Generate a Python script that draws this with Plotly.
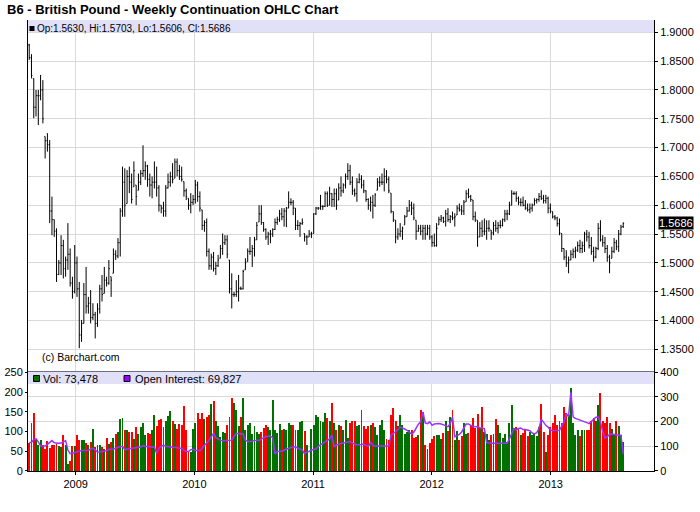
import pandas as pd
import plotly.graph_objects as go

# weekly B6 continuation, Aug 2008 - Aug 2013
opens = [
    1.878, 1.856, 1.820, 1.770, 1.790, 1.790, 1.800, 1.719, 1.712, 1.705,
    1.590, 1.575, 1.555, 1.480, 1.500, 1.530, 1.490, 1.505, 1.515, 1.465,
    1.450, 1.500, 1.455, 1.375, 1.395, 1.445, 1.425, 1.430, 1.405, 1.410,
    1.395, 1.420, 1.455, 1.447, 1.470, 1.465, 1.476, 1.482, 1.515, 1.512,
    1.535, 1.590, 1.640, 1.603, 1.650, 1.640, 1.632, 1.635, 1.626, 1.640,
    1.655, 1.660, 1.668, 1.645, 1.635, 1.640, 1.640, 1.630, 1.600, 1.595,
    1.590, 1.630, 1.640, 1.650, 1.647, 1.675, 1.660, 1.650, 1.641, 1.625,
    1.612, 1.600, 1.605, 1.610, 1.635, 1.615, 1.592, 1.565, 1.570, 1.520,
    1.495, 1.510, 1.490, 1.495, 1.508, 1.525, 1.535, 1.540, 1.505, 1.455,
    1.445, 1.445, 1.450, 1.456, 1.455, 1.488, 1.502, 1.520, 1.520, 1.525,
    1.540, 1.571, 1.585, 1.570, 1.558, 1.545, 1.550, 1.550, 1.558, 1.570,
    1.575, 1.585, 1.580, 1.590, 1.595, 1.605, 1.605, 1.595, 1.565, 1.565,
    1.568, 1.551, 1.545, 1.545, 1.550, 1.551, 1.585, 1.595, 1.595, 1.598,
    1.598, 1.620, 1.600, 1.620, 1.610, 1.620, 1.609, 1.630, 1.625, 1.635,
    1.650, 1.660, 1.640, 1.625, 1.620, 1.640, 1.645, 1.635, 1.625, 1.610,
    1.600, 1.605, 1.600, 1.626, 1.640, 1.640, 1.640, 1.650, 1.645, 1.621,
    1.589, 1.574, 1.545, 1.550, 1.555, 1.566, 1.580, 1.590, 1.600, 1.595,
    1.574, 1.555, 1.560, 1.555, 1.560, 1.550, 1.560, 1.545, 1.535, 1.530,
    1.566, 1.575, 1.578, 1.572, 1.585, 1.575, 1.580, 1.578, 1.583, 1.595,
    1.592, 1.590, 1.606, 1.620, 1.615, 1.609, 1.580, 1.574, 1.545, 1.560,
    1.555, 1.555, 1.560, 1.557, 1.552, 1.565, 1.560, 1.565, 1.565, 1.575,
    1.585, 1.585, 1.600, 1.620, 1.620, 1.612, 1.605, 1.605, 1.600, 1.595,
    1.592, 1.595, 1.600, 1.608, 1.610, 1.615, 1.612, 1.608, 1.612, 1.595,
    1.589, 1.580, 1.578, 1.568, 1.551, 1.525, 1.510, 1.500, 1.505, 1.515,
    1.520, 1.522, 1.530, 1.525, 1.530, 1.550, 1.545, 1.530, 1.520, 1.510,
    1.525, 1.560, 1.540, 1.535, 1.525, 1.510, 1.508, 1.520, 1.535, 1.528,
    1.550, 1.5630,
]
highs = [
    1.880, 1.862, 1.820, 1.800, 1.800, 1.826, 1.817, 1.719, 1.725, 1.713,
    1.615, 1.575, 1.560, 1.505, 1.548, 1.540, 1.511, 1.569, 1.525, 1.476,
    1.531, 1.511, 1.467, 1.401, 1.465, 1.493, 1.441, 1.453, 1.430, 1.415,
    1.430, 1.462, 1.479, 1.493, 1.476, 1.505, 1.476, 1.525, 1.522, 1.543,
    1.595, 1.667, 1.664, 1.661, 1.667, 1.655, 1.676, 1.635, 1.655, 1.661,
    1.704, 1.676, 1.670, 1.655, 1.650, 1.676, 1.667, 1.635, 1.600, 1.606,
    1.635, 1.655, 1.658, 1.673, 1.681, 1.681, 1.670, 1.667, 1.641, 1.629,
    1.612, 1.621, 1.618, 1.644, 1.641, 1.624, 1.592, 1.574, 1.577, 1.525,
    1.516, 1.519, 1.502, 1.514, 1.531, 1.551, 1.548, 1.548, 1.505, 1.482,
    1.450, 1.470, 1.479, 1.459, 1.488, 1.508, 1.525, 1.545, 1.531, 1.545,
    1.571, 1.600, 1.600, 1.571, 1.560, 1.554, 1.557, 1.560, 1.577, 1.580,
    1.592, 1.595, 1.595, 1.597, 1.624, 1.612, 1.609, 1.595, 1.574, 1.571,
    1.577, 1.551, 1.548, 1.557, 1.554, 1.586, 1.597, 1.597, 1.618, 1.600,
    1.624, 1.624, 1.632, 1.621, 1.629, 1.629, 1.638, 1.650, 1.638, 1.655,
    1.673, 1.670, 1.650, 1.629, 1.647, 1.655, 1.652, 1.644, 1.626, 1.612,
    1.615, 1.618, 1.621, 1.647, 1.650, 1.655, 1.664, 1.661, 1.650, 1.621,
    1.589, 1.574, 1.560, 1.569, 1.563, 1.583, 1.597, 1.609, 1.606, 1.603,
    1.574, 1.566, 1.566, 1.566, 1.566, 1.566, 1.566, 1.548, 1.551, 1.569,
    1.580, 1.583, 1.580, 1.592, 1.595, 1.583, 1.589, 1.586, 1.600, 1.603,
    1.600, 1.609, 1.626, 1.629, 1.618, 1.609, 1.589, 1.574, 1.571, 1.574,
    1.577, 1.574, 1.574, 1.557, 1.571, 1.574, 1.571, 1.574, 1.577, 1.592,
    1.592, 1.606, 1.626, 1.624, 1.624, 1.615, 1.612, 1.615, 1.609, 1.603,
    1.603, 1.603, 1.612, 1.612, 1.621, 1.626, 1.618, 1.618, 1.615, 1.603,
    1.589, 1.583, 1.580, 1.577, 1.551, 1.525, 1.522, 1.511, 1.522, 1.525,
    1.528, 1.537, 1.540, 1.537, 1.554, 1.557, 1.554, 1.545, 1.528, 1.528,
    1.569, 1.574, 1.548, 1.545, 1.531, 1.514, 1.528, 1.543, 1.540, 1.557,
    1.566, 1.5703,
]
lows = [
    1.852, 1.820, 1.751, 1.754, 1.739, 1.782, 1.742, 1.681, 1.693, 1.569,
    1.548, 1.545, 1.467, 1.479, 1.479, 1.473, 1.476, 1.488, 1.459, 1.438,
    1.447, 1.441, 1.352, 1.363, 1.395, 1.412, 1.412, 1.395, 1.401, 1.369,
    1.389, 1.412, 1.433, 1.447, 1.459, 1.462, 1.441, 1.482, 1.505, 1.508,
    1.511, 1.580, 1.580, 1.603, 1.621, 1.603, 1.632, 1.600, 1.626, 1.635,
    1.649, 1.644, 1.632, 1.615, 1.612, 1.629, 1.615, 1.589, 1.586, 1.580,
    1.580, 1.629, 1.632, 1.638, 1.647, 1.650, 1.644, 1.641, 1.615, 1.609,
    1.592, 1.586, 1.600, 1.603, 1.606, 1.589, 1.557, 1.554, 1.511, 1.488,
    1.488, 1.485, 1.479, 1.493, 1.508, 1.514, 1.531, 1.508, 1.447, 1.421,
    1.441, 1.441, 1.433, 1.453, 1.454, 1.488, 1.502, 1.514, 1.493, 1.511,
    1.540, 1.571, 1.566, 1.554, 1.540, 1.531, 1.534, 1.545, 1.557, 1.566,
    1.571, 1.574, 1.563, 1.562, 1.595, 1.600, 1.583, 1.557, 1.557, 1.545,
    1.566, 1.537, 1.531, 1.545, 1.543, 1.551, 1.583, 1.592, 1.592, 1.592,
    1.597, 1.597, 1.600, 1.597, 1.597, 1.592, 1.609, 1.615, 1.621, 1.629,
    1.644, 1.635, 1.618, 1.615, 1.606, 1.638, 1.629, 1.621, 1.606, 1.592,
    1.589, 1.577, 1.597, 1.626, 1.632, 1.635, 1.624, 1.638, 1.621, 1.586,
    1.571, 1.534, 1.540, 1.545, 1.540, 1.566, 1.580, 1.589, 1.583, 1.574,
    1.540, 1.554, 1.548, 1.540, 1.540, 1.548, 1.540, 1.528, 1.528, 1.528,
    1.566, 1.571, 1.569, 1.563, 1.571, 1.569, 1.574, 1.563, 1.583, 1.589,
    1.583, 1.583, 1.606, 1.612, 1.606, 1.574, 1.571, 1.528, 1.545, 1.545,
    1.548, 1.540, 1.554, 1.540, 1.548, 1.554, 1.551, 1.560, 1.563, 1.571,
    1.574, 1.583, 1.600, 1.618, 1.606, 1.600, 1.598, 1.598, 1.592, 1.589,
    1.586, 1.589, 1.600, 1.603, 1.606, 1.609, 1.603, 1.603, 1.586, 1.586,
    1.577, 1.574, 1.563, 1.548, 1.519, 1.505, 1.493, 1.482, 1.505, 1.508,
    1.508, 1.519, 1.517, 1.517, 1.519, 1.537, 1.525, 1.514, 1.502, 1.508,
    1.522, 1.537, 1.528, 1.517, 1.502, 1.482, 1.508, 1.517, 1.522, 1.519,
    1.548, 1.5606,
]
closes = [
    1.856, 1.825, 1.770, 1.790, 1.790, 1.800, 1.750, 1.712, 1.705, 1.590,
    1.575, 1.555, 1.480, 1.500, 1.530, 1.490, 1.505, 1.515, 1.465, 1.450,
    1.500, 1.455, 1.375, 1.395, 1.445, 1.425, 1.430, 1.405, 1.410, 1.395,
    1.420, 1.455, 1.445, 1.470, 1.465, 1.490, 1.470, 1.515, 1.512, 1.535,
    1.590, 1.640, 1.600, 1.650, 1.640, 1.610, 1.660, 1.615, 1.640, 1.655,
    1.660, 1.668, 1.645, 1.635, 1.640, 1.640, 1.630, 1.600, 1.595, 1.590,
    1.630, 1.640, 1.650, 1.645, 1.675, 1.660, 1.650, 1.645, 1.625, 1.615,
    1.600, 1.605, 1.610, 1.635, 1.615, 1.595, 1.565, 1.570, 1.520, 1.495,
    1.510, 1.490, 1.495, 1.505, 1.525, 1.535, 1.540, 1.515, 1.455, 1.445,
    1.445, 1.450, 1.456, 1.455, 1.485, 1.500, 1.520, 1.520, 1.525, 1.540,
    1.565, 1.585, 1.570, 1.558, 1.545, 1.550, 1.550, 1.558, 1.570, 1.575,
    1.585, 1.580, 1.590, 1.595, 1.605, 1.605, 1.595, 1.565, 1.565, 1.568,
    1.570, 1.545, 1.545, 1.550, 1.550, 1.585, 1.595, 1.595, 1.598, 1.598,
    1.620, 1.600, 1.620, 1.610, 1.620, 1.600, 1.630, 1.625, 1.635, 1.650,
    1.660, 1.640, 1.625, 1.620, 1.640, 1.645, 1.635, 1.625, 1.610, 1.600,
    1.605, 1.600, 1.618, 1.640, 1.640, 1.640, 1.650, 1.645, 1.625, 1.590,
    1.575, 1.545, 1.550, 1.555, 1.560, 1.580, 1.590, 1.600, 1.595, 1.578,
    1.555, 1.560, 1.555, 1.560, 1.550, 1.560, 1.545, 1.535, 1.530, 1.560,
    1.575, 1.578, 1.572, 1.585, 1.575, 1.580, 1.578, 1.580, 1.595, 1.592,
    1.590, 1.605, 1.620, 1.615, 1.610, 1.580, 1.575, 1.545, 1.560, 1.555,
    1.555, 1.560, 1.560, 1.552, 1.565, 1.560, 1.565, 1.565, 1.575, 1.585,
    1.585, 1.600, 1.620, 1.620, 1.612, 1.605, 1.605, 1.600, 1.595, 1.592,
    1.595, 1.600, 1.608, 1.610, 1.615, 1.612, 1.608, 1.612, 1.595, 1.590,
    1.580, 1.578, 1.568, 1.552, 1.525, 1.510, 1.500, 1.505, 1.515, 1.520,
    1.522, 1.530, 1.525, 1.530, 1.550, 1.545, 1.530, 1.520, 1.510, 1.525,
    1.560, 1.540, 1.535, 1.525, 1.510, 1.500, 1.520, 1.535, 1.528, 1.550,
    1.562, 1.5686,
]

# thousands of contracts
volume = [
    72, 123, 149, 79, 66, 79, 66, 58, 77, 60,
    66, 66, 69, 64, 62, 93, 68, 18, 26, 64,
    64, 93, 81, 81, 81, 71, 66, 75, 108, 62,
    68, 68, 62, 58, 86, 70, 75, 86, 96, 100,
    134, 136, 104, 104, 100, 100, 83, 113, 94, 113,
    123, 93, 98, 96, 106, 144, 114, 131, 134, 113,
    127, 141, 152, 129, 121, 107, 121, 118, 165, 104,
    52, 50, 107, 123, 149, 133, 148, 134, 139, 143,
    171, 179, 127, 115, 87, 100, 98, 118, 139, 186,
    174, 157, 114, 139, 186, 104, 117, 123, 94, 114,
    100, 96, 100, 111, 117, 113, 104, 182, 106, 98,
    121, 106, 108, 106, 123, 119, 117, 104, 106, 126,
    129, 102, 68, 0, 108, 118, 144, 139, 129, 125,
    149, 136, 127, 174, 123, 106, 118, 115, 104, 131,
    85, 123, 128, 128, 115, 117, 155, 114, 108, 114,
    119, 123, 113, 92, 118, 131, 104, 83, 79, 142,
    161, 127, 115, 142, 117, 96, 100, 106, 104, 86,
    87, 92, 156, 150, 66, 56, 73, 83, 89, 93,
    93, 83, 98, 127, 102, 138, 155, 81, 102, 81,
    89, 123, 96, 98, 118, 136, 111, 146, 111, 163,
    100, 96, 79, 92, 94, 134, 118, 97, 85, 96,
    75, 123, 169, 110, 113, 108, 93, 97, 106, 89,
    100, 92, 98, 90, 113, 171, 100, 50, 93, 113,
    123, 144, 119, 128, 123, 163, 148, 144, 211, 123,
    93, 104, 89, 104, 104, 104, 104, 128, 136, 129,
    169, 199, 128, 123, 138, 123, 108, 96, 127, 115,
    92, 73.478,
]
open_interest = [
    115, 115, 128, 130, 118, 101, 101, 101, 108, 115,
    123, 114, 112, 112, 113, 118, 123, 85, 70, 72,
    75, 79, 83, 83, 83, 83, 84, 88, 92, 86,
    76, 77, 79, 79, 82, 88, 88, 89, 92, 96,
    99, 99, 87, 89, 90, 91, 92, 92, 93, 97,
    103, 99, 99, 99, 99, 96, 72, 92, 100, 105,
    100, 99, 99, 99, 97, 94, 92, 92, 85, 79,
    79, 86, 88, 83, 83, 83, 92, 105, 112, 125,
    140, 152, 135, 128, 124, 123, 123, 123, 122, 125,
    140, 152, 152, 152, 150, 125, 119, 119, 121, 125,
    125, 124, 130, 136, 140, 141, 141, 135, 69, 79,
    79, 80, 85, 88, 93, 95, 98, 97, 92, 88,
    85, 70, 77, 79, 85, 87, 89, 100, 106, 112,
    120, 125, 130, 145, 99, 105, 109, 112, 113, 115,
    116, 119, 114, 108, 106, 105, 107, 109, 103, 99,
    115, 105, 101, 101, 101, 101, 101, 101, 101, 145,
    152, 160, 167, 178, 175, 170, 165, 157, 150, 157,
    175, 190, 199, 239, 195, 192, 199, 185, 190, 192,
    192, 190, 188, 184, 179, 193, 219, 139, 143, 148,
    158, 172, 190, 190, 185, 180, 179, 179, 175, 172,
    172, 115, 112, 112, 112, 112, 112, 112, 112, 112,
    112, 130, 150, 172, 166, 172, 174, 168, 168, 167,
    163, 154, 150, 155, 172, 210, 195, 185, 178, 166,
    164, 163, 164, 165, 180, 200, 233, 220, 319, 219,
    213, 210, 207, 205, 201, 196, 192, 200, 208, 218,
    219, 200, 160, 133, 139, 148, 150, 148, 145, 145,
    145, 69.827,
]

price_ticks = [1.35, 1.40, 1.45, 1.50, 1.55, 1.60, 1.65, 1.70, 1.75, 1.80, 1.85, 1.90]
vol_ticks = [0, 50, 100, 150, 200, 250]
oi_ticks = [0, 100, 200, 300, 400]

weeks = pd.date_range("2008-08-11", periods=len(closes), freq="7D")

GRID = "#d9d9d9"
BAND = "#e0e0f8"
GREEN = "#007000"
RED = "#ff0000"
PURPLE = "#9933ff"
FONT = "Liberation Sans, Arial, sans-serif"
x_range = ["2008-08-07 07:00", "2013-11-14 17:00"]

bar_colors = [GREEN if c >= o else RED for o, c in zip(opens, closes)]

fig = go.Figure()
fig.add_trace(go.Ohlc(
    x=weeks, open=opens, high=highs, low=lows, close=closes,
    increasing_line_color="black", decreasing_line_color="black",
    line_width=1, tickwidth=0.4, xaxis="x", yaxis="y",
))
fig.add_trace(go.Bar(
    x=weeks, y=volume, marker_color=bar_colors, marker_line_width=0,
    width=2.9 * 86400000, xaxis="x2", yaxis="y2",
))
fig.add_trace(go.Scatter(
    x=weeks, y=open_interest, mode="lines",
    line=dict(color=PURPLE, width=1.5), xaxis="x2", yaxis="y3",
))

def px(x):
    # screen column -> paper x (plot area spans 28..654)
    return (x - 28) / 626

def py(y):
    # screen row -> paper y (plot area spans 20..471)
    return (471 - y) / 451

shapes = [
    dict(type="rect", xref="paper", yref="paper", x0=0, x1=1, y0=py(32), y1=1,
         fillcolor=BAND, line_width=0, layer="above"),
    dict(type="rect", xref="paper", yref="paper", x0=0, x1=1, y0=py(384), y1=py(371.5),
         fillcolor=BAND, line_width=0, layer="above"),
    dict(type="rect", xref="paper", yref="paper", x0=px(29.5), x1=px(34.5), y0=py(31), y1=py(26),
         fillcolor="black", line_width=0, layer="above"),
    dict(type="rect", xref="paper", yref="paper", x0=px(33.5), x1=px(39.5), y0=py(381.5), y1=py(375.5),
         fillcolor=GREEN, line=dict(color="black", width=1), layer="above"),
    dict(type="rect", xref="paper", yref="paper", x0=px(124), x1=px(130), y0=py(381.5), y1=py(375.5),
         fillcolor="#9900ff", line=dict(color="black", width=1), layer="above"),
]

def note(text, x, y, size=11):
    return dict(text=text, xref="paper", yref="paper", x=px(x), y=py(y),
                xanchor="left", yanchor="middle", showarrow=False,
                font=dict(size=size, color="black", family=FONT))

annotations = [
    note("<b>B6 - British Pound - Weekly Continuation OHLC Chart</b>", 5, 9.5, 13),
    note("Op:1.5630, Hi:1.5703, Lo:1.5606, Cl:1.5686", 34.5, 28.5, 10),
    note("(c) Barchart.com", 39.5, 357, 10.5),
    note("Vol: 73,478", 41, 378.5),
    note("Open Interest: 69,827", 133, 378.5),
    dict(text="1.5686", xref="paper", yref="y", x=1, y=closes[-1], xanchor="left",
         yanchor="middle", xshift=4, showarrow=False, bgcolor="black", borderpad=0,
         font=dict(size=11, color="white", family=FONT)),
]

axis_font = dict(size=11, color="black", family=FONT)

fig.update_layout(
    template="none",
    width=700, height=512,
    margin=dict(l=28, r=46, t=20, b=41),
    paper_bgcolor="white", plot_bgcolor="white",
    font=dict(family=FONT, size=11, color="black"),
    showlegend=False,
    bargap=0,
    xaxis=dict(domain=[0, 1], anchor="y", type="date", range=x_range,
               showgrid=True, gridcolor=GRID, gridwidth=1, tick0="2009-01-01", dtick="M12",
               showticklabels=False, ticks="", showline=True, linecolor="black",
               linewidth=2, zeroline=False, automargin=False,
               rangeslider=dict(visible=False)),
    xaxis2=dict(domain=[0, 1], anchor="y2", type="date", range=x_range,
                showgrid=True, gridcolor=GRID, gridwidth=1, tick0="2009-01-01", dtick="M12",
                tickformat="%Y", ticks="outside", ticklen=3, tickcolor="black",
                showline=True, linecolor="black", linewidth=1, zeroline=False,
                tickfont=axis_font, automargin=False),
    yaxis=dict(domain=[0.2228, 1], anchor="x", side="right", range=[1.3133, 1.9213],
               tickvals=price_ticks, tickformat=".4f", ticks="outside", ticklen=3,
               tickcolor="black", showline=True, linecolor="black", mirror=True,
               showgrid=True, gridcolor=GRID, gridwidth=1, zeroline=False,
               tickfont=axis_font, automargin=False),
    yaxis2=dict(domain=[0, 0.2206], anchor="x2", side="left", range=[0, 252],
                tickvals=vol_ticks, ticksuffix="K", ticks="outside", ticklen=2,
                tickcolor="black", showline=True, linecolor="black", showgrid=False,
                zeroline=False, tickfont=axis_font, automargin=False),
    yaxis3=dict(overlaying="y2", anchor="x2", side="right", range=[0, 403],
                tickvals=oi_ticks, ticksuffix="K", ticks="outside", ticklen=3,
                tickcolor="black", showline=True, linecolor="black", showgrid=True,
                gridcolor=GRID, gridwidth=1, zeroline=False, tickfont=axis_font,
                automargin=False),
    shapes=shapes,
    annotations=annotations,
)

# the page's default body margin would push the 700x512 figure 8px in
fig.write_html("out.html", config={"displayModeBar": False},
               post_script="document.body.style.margin = '0';")
